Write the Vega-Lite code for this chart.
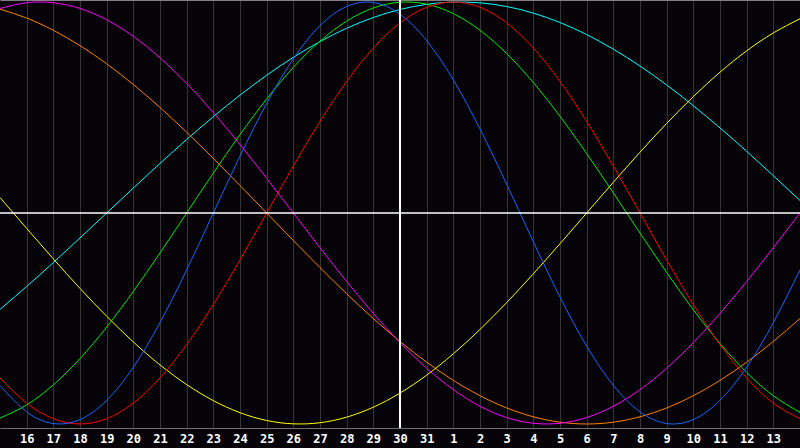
{
  "$schema": "https://vega.github.io/schema/vega-lite/v6.json",
  "width": 800,
  "height": 428,
  "autosize": {"type": "none"},
  "padding": {"left": 0, "top": 0, "right": 0, "bottom": 20},
  "background": "#050308",
  "config": {"view": {"stroke": null}},
  "data": {"values": [
    {"t": 0, "physical": -0.8170, "emotional": -0.7818, "intellectual": -0.9718, "intuitive": 0.9694, "aesthetic": 0.0730, "awareness": 0.9659, "spiritual": -0.4566},
    {"t": 1, "physical": -0.9423, "emotional": -0.9010, "intellectual": -0.9096, "intuitive": 0.9966, "aesthetic": -0.0730, "awareness": 0.9239, "spiritual": -0.3482},
    {"t": 2, "physical": -0.9977, "emotional": -0.9749, "intellectual": -0.8146, "intuitive": 0.9966, "aesthetic": -0.2174, "awareness": 0.8660, "spiritual": -0.2349},
    {"t": 3, "physical": -0.9791, "emotional": -1.0, "intellectual": -0.6901, "intuitive": 0.9694, "aesthetic": -0.3572, "awareness": 0.7934, "spiritual": -0.1183},
    {"t": 4, "physical": -0.8879, "emotional": -0.9749, "intellectual": -0.5406, "intuitive": 0.9158, "aesthetic": -0.4894, "awareness": 0.7071, "spiritual": 0.0},
    {"t": 5, "physical": -0.7308, "emotional": -0.9010, "intellectual": -0.3716, "intuitive": 0.8372, "aesthetic": -0.6112, "awareness": 0.6088, "spiritual": 0.1183},
    {"t": 6, "physical": -0.5196, "emotional": -0.7818, "intellectual": -0.1893, "intuitive": 0.7357, "aesthetic": -0.7199, "awareness": 0.5, "spiritual": 0.2349},
    {"t": 7, "physical": -0.2698, "emotional": -0.6235, "intellectual": 0.0, "intuitive": 0.6142, "aesthetic": -0.8133, "awareness": 0.3827, "spiritual": 0.3482},
    {"t": 8, "physical": 0.0, "emotional": -0.4339, "intellectual": 0.1893, "intuitive": 0.4759, "aesthetic": -0.8893, "awareness": 0.2588, "spiritual": 0.4566},
    {"t": 9, "physical": 0.2698, "emotional": -0.2225, "intellectual": 0.3716, "intuitive": 0.3247, "aesthetic": -0.9465, "awareness": 0.1305, "spiritual": 0.5586},
    {"t": 10, "physical": 0.5196, "emotional": 0.0, "intellectual": 0.5406, "intuitive": 0.1646, "aesthetic": -0.9834, "awareness": 0.0, "spiritual": 0.6529},
    {"t": 11, "physical": 0.7308, "emotional": 0.2225, "intellectual": 0.6901, "intuitive": 0.0, "aesthetic": -0.9993, "awareness": -0.1305, "spiritual": 0.7379},
    {"t": 12, "physical": 0.8879, "emotional": 0.4339, "intellectual": 0.8146, "intuitive": -0.1646, "aesthetic": -0.9940, "awareness": -0.2588, "spiritual": 0.8125},
    {"t": 13, "physical": 0.9791, "emotional": 0.6235, "intellectual": 0.9096, "intuitive": -0.3247, "aesthetic": -0.9675, "awareness": -0.3827, "spiritual": 0.8757},
    {"t": 14, "physical": 0.9977, "emotional": 0.7818, "intellectual": 0.9718, "intuitive": -0.4759, "aesthetic": -0.9204, "awareness": -0.5, "spiritual": 0.9267},
    {"t": 15, "physical": 0.9423, "emotional": 0.9010, "intellectual": 0.9989, "intuitive": -0.6142, "aesthetic": -0.8535, "awareness": -0.6088, "spiritual": 0.9646},
    {"t": 16, "physical": 0.8170, "emotional": 0.9749, "intellectual": 0.9898, "intuitive": -0.7357, "aesthetic": -0.7685, "awareness": -0.7071, "spiritual": 0.9890},
    {"t": 17, "physical": 0.6311, "emotional": 1.0, "intellectual": 0.9450, "intuitive": -0.8372, "aesthetic": -0.6673, "awareness": -0.7934, "spiritual": 0.9996},
    {"t": 18, "physical": 0.3984, "emotional": 0.9749, "intellectual": 0.8660, "intuitive": -0.9158, "aesthetic": -0.5518, "awareness": -0.8660, "spiritual": 0.9960},
    {"t": 19, "physical": 0.1362, "emotional": 0.9010, "intellectual": 0.7557, "intuitive": -0.9694, "aesthetic": -0.4245, "awareness": -0.9239, "spiritual": 0.9786},
    {"t": 20, "physical": -0.1362, "emotional": 0.7818, "intellectual": 0.6182, "intuitive": -0.9966, "aesthetic": -0.2881, "awareness": -0.9659, "spiritual": 0.9473},
    {"t": 21, "physical": -0.3984, "emotional": 0.6235, "intellectual": 0.4582, "intuitive": -0.9966, "aesthetic": -0.1456, "awareness": -0.9914, "spiritual": 0.9028},
    {"t": 22, "physical": -0.6311, "emotional": 0.4339, "intellectual": 0.2817, "intuitive": -0.9694, "aesthetic": 0.0, "awareness": -1.0, "spiritual": 0.8456},
    {"t": 23, "physical": -0.8170, "emotional": 0.2225, "intellectual": 0.0951, "intuitive": -0.9158, "aesthetic": 0.1456, "awareness": -0.9914, "spiritual": 0.7765},
    {"t": 24, "physical": -0.9423, "emotional": 0.0, "intellectual": -0.0951, "intuitive": -0.8372, "aesthetic": 0.2881, "awareness": -0.9659, "spiritual": 0.6966},
    {"t": 25, "physical": -0.9977, "emotional": -0.2225, "intellectual": -0.2817, "intuitive": -0.7357, "aesthetic": 0.4245, "awareness": -0.9239, "spiritual": 0.6068},
    {"t": 26, "physical": -0.9791, "emotional": -0.4339, "intellectual": -0.4582, "intuitive": -0.6142, "aesthetic": 0.5518, "awareness": -0.8660, "spiritual": 0.5085},
    {"t": 27, "physical": -0.8879, "emotional": -0.6235, "intellectual": -0.6182, "intuitive": -0.4759, "aesthetic": 0.6673, "awareness": -0.7934, "spiritual": 0.4031},
    {"t": 28, "physical": -0.7308, "emotional": -0.7818, "intellectual": -0.7557, "intuitive": -0.3247, "aesthetic": 0.7685, "awareness": -0.7071, "spiritual": 0.2921},
    {"t": 29, "physical": -0.5196, "emotional": -0.9010, "intellectual": -0.8660, "intuitive": -0.1646, "aesthetic": 0.8535, "awareness": -0.6088, "spiritual": 0.1769},
    {"t": 30, "physical": -0.2698, "emotional": -0.9749, "intellectual": -0.9450, "intuitive": 0.0, "aesthetic": 0.9204, "awareness": -0.5, "spiritual": 0.0592}
  ]},
  "layer": [
    {
      "transform": [{"fold": ["spiritual", "awareness", "aesthetic", "intuitive", "intellectual", "emotional", "physical"], "as": ["cycle", "value"]}],
      "mark": {"type": "line", "strokeWidth": 1, "interpolate": "natural", "clip": true},
      "encoding": {
        "x": {"field": "t", "type": "quantitative",
          "scale": {"domain": [0, 30], "nice": false, "zero": false},
          "axis": {"orient": "bottom", "values": [1,2,3,4,5,6,7,8,9,10,11,12,13,14,15,16,17,18,19,20,21,22,23,24,25,26,27,28,29],
            "labelExpr": "datum.value <= 16 ? '' + (datum.value + 15) : '' + (datum.value - 16)",
            "grid": true, "gridColor": "#363636", "gridWidth": 1,
            "ticks": false, "domain": true, "domainColor": "#707070",
            "labelColor": "#ffffff", "labelFont": "DejaVu Sans Mono", "labelFontWeight": "bold", "labelFontSize": 12,
            "labelPadding": 5, "labelFlush": false, "labelOverlap": false, "title": null}},
        "y": {"field": "value", "type": "quantitative",
          "scale": {"domain": [-1.019, 1.0095], "nice": false, "zero": false},
          "axis": {"orient": "left", "labels": false, "ticks": false, "grid": false, "domain": true, "domainColor": "#808080", "title": null}},
        "color": {"field": "cycle", "type": "nominal",
          "scale": {"domain": ["physical", "emotional", "intellectual", "intuitive", "aesthetic", "awareness", "spiritual"],
                    "range": ["#1a66ff", "#ff0000", "#00ee00", "#ff00ff", "#ffff00", "#ff8000", "#00ffff"]},
          "legend": null}
      }
    },
    {
      "data": {"values": [{}]},
      "mark": {"type": "rule", "color": "#ffffff", "strokeWidth": 2},
      "encoding": {
        "x": {"datum": 15, "type": "quantitative",
          "axis": {"orient": "top", "labels": false, "ticks": false, "grid": false, "domain": true, "domainColor": "#808080", "title": null}}
      }
    },
    {
      "data": {"values": [{}]},
      "mark": {"type": "rule", "color": "#ffffff", "strokeWidth": 1.5},
      "encoding": {
        "y": {"datum": 0, "type": "quantitative", "axis": null}
      }
    }
  ]
}
